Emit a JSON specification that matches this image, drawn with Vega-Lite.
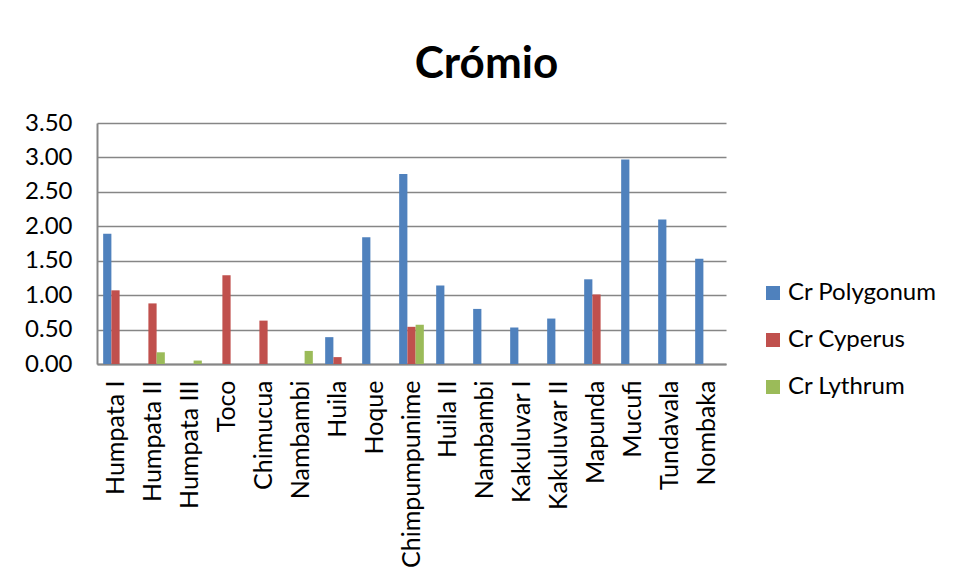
{
  "$schema": "https://vega.github.io/schema/vega-lite/v6.json",
  "width": 629,
  "height": 241,
  "autosize": "none",
  "padding": {"left": 97, "top": 123, "right": 228, "bottom": 216},
  "background": "white",
  "title": {
    "text": "Crómio",
    "font": "Lato",
    "fontSize": 44,
    "fontWeight": "bold",
    "color": "black",
    "anchor": "middle",
    "frame": "group",
    "baseline": "alphabetic",
    "offset": 46,
    "dx": 75,
    "dy": 57
  },
  "config": {
    "view": {"stroke": null},
    "font": "Lato"
  },
  "data": {
    "values": [
      {"n": 1, "site": "Humpata I", "species": "Cr Polygonum", "value": 1.89},
      {"n": 1, "site": "Humpata I", "species": "Cr Cyperus", "value": 1.07},
      {"n": 2, "site": "Humpata II", "species": "Cr Cyperus", "value": 0.88},
      {"n": 2, "site": "Humpata II", "species": "Cr Lythrum", "value": 0.17},
      {"n": 3, "site": "Humpata III", "species": "Cr Lythrum", "value": 0.05},
      {"n": 4, "site": "Toco", "species": "Cr Cyperus", "value": 1.29},
      {"n": 5, "site": "Chimucua", "species": "Cr Cyperus", "value": 0.63},
      {"n": 6, "site": "Nambambi", "species": "Cr Lythrum", "value": 0.19},
      {"n": 7, "site": "Huila", "species": "Cr Polygonum", "value": 0.39},
      {"n": 7, "site": "Huila", "species": "Cr Cyperus", "value": 0.1},
      {"n": 8, "site": "Hoque", "species": "Cr Polygonum", "value": 1.84},
      {"n": 9, "site": "Chimpumpunime", "species": "Cr Polygonum", "value": 2.76},
      {"n": 9, "site": "Chimpumpunime", "species": "Cr Cyperus", "value": 0.54},
      {"n": 9, "site": "Chimpumpunime", "species": "Cr Lythrum", "value": 0.57},
      {"n": 10, "site": "Huila II", "species": "Cr Polygonum", "value": 1.14},
      {"n": 11, "site": "Nambambi", "species": "Cr Polygonum", "value": 0.8},
      {"n": 12, "site": "Kakuluvar I", "species": "Cr Polygonum", "value": 0.53},
      {"n": 13, "site": "Kakuluvar II", "species": "Cr Polygonum", "value": 0.66},
      {"n": 14, "site": "Mapunda", "species": "Cr Polygonum", "value": 1.23},
      {"n": 14, "site": "Mapunda", "species": "Cr Cyperus", "value": 1.01},
      {"n": 15, "site": "Mucufi", "species": "Cr Polygonum", "value": 2.97},
      {"n": 16, "site": "Tundavala", "species": "Cr Polygonum", "value": 2.1},
      {"n": 17, "site": "Nombaka", "species": "Cr Polygonum", "value": 1.53}
    ]
  },
  "mark": {"type": "bar"},
  "encoding": {
    "x": {
      "field": "n",
      "type": "ordinal",
      "scale": {"domain": [1,2,3,4,5,6,7,8,9,10,11,12,13,14,15,16,17], "paddingInner": 0.3333, "paddingOuter": 0.1667},
      "axis": {
        "title": null,
        "labelAngle": -90,
        "labelFont": "Lato",
        "labelFontSize": 25,
        "labelColor": "black",
        "labelPadding": 16,
        "labelLimit": 0,
        "ticks": false,
        "domainColor": "#868686",
        "domainWidth": 2,
        "grid": false,
        "labelExpr": "['Humpata I','Humpata II','Humpata III','Toco','Chimucua','Nambambi','Huila','Hoque','Chimpumpunime','Huila II','Nambambi','Kakuluvar I','Kakuluvar II','Mapunda','Mucufi','Tundavala','Nombaka'][datum.value - 1]"
      }
    },
    "xOffset": {
      "field": "species",
      "type": "nominal",
      "scale": {"domain": ["Cr Polygonum", "Cr Cyperus", "Cr Lythrum"], "paddingInner": 0, "paddingOuter": 0}
    },
    "y": {
      "field": "value",
      "type": "quantitative",
      "scale": {"domain": [0, 3.5], "nice": false},
      "axis": {
        "title": null,
        "values": [0, 0.5, 1, 1.5, 2, 2.5, 3, 3.5],
        "format": ".2f",
        "labelFont": "Lato",
        "labelFontSize": 24,
        "labelColor": "black",
        "labelPadding": 25,
        "ticks": false,
        "domainColor": "#868686",
        "domainWidth": 2,
        "gridColor": "#868686",
        "gridWidth": 1.5
      }
    },
    "color": {
      "field": "species",
      "type": "nominal",
      "scale": {"domain": ["Cr Polygonum", "Cr Cyperus", "Cr Lythrum"], "range": ["#4F81BD", "#C0504D", "#9BBB59"]},
      "legend": {
        "title": null,
        "orient": "none",
        "legendX": 664,
        "legendY": 158,
        "direction": "vertical",
        "symbolType": "square",
        "symbolSize": 196,
        "symbolStrokeWidth": 0,
        "labelFont": "Lato",
        "labelFontSize": 24,
        "labelColor": "black",
        "labelOffset": 3,
        "rowPadding": 23,
        "labelLimit": 0
      }
    }
  }
}
